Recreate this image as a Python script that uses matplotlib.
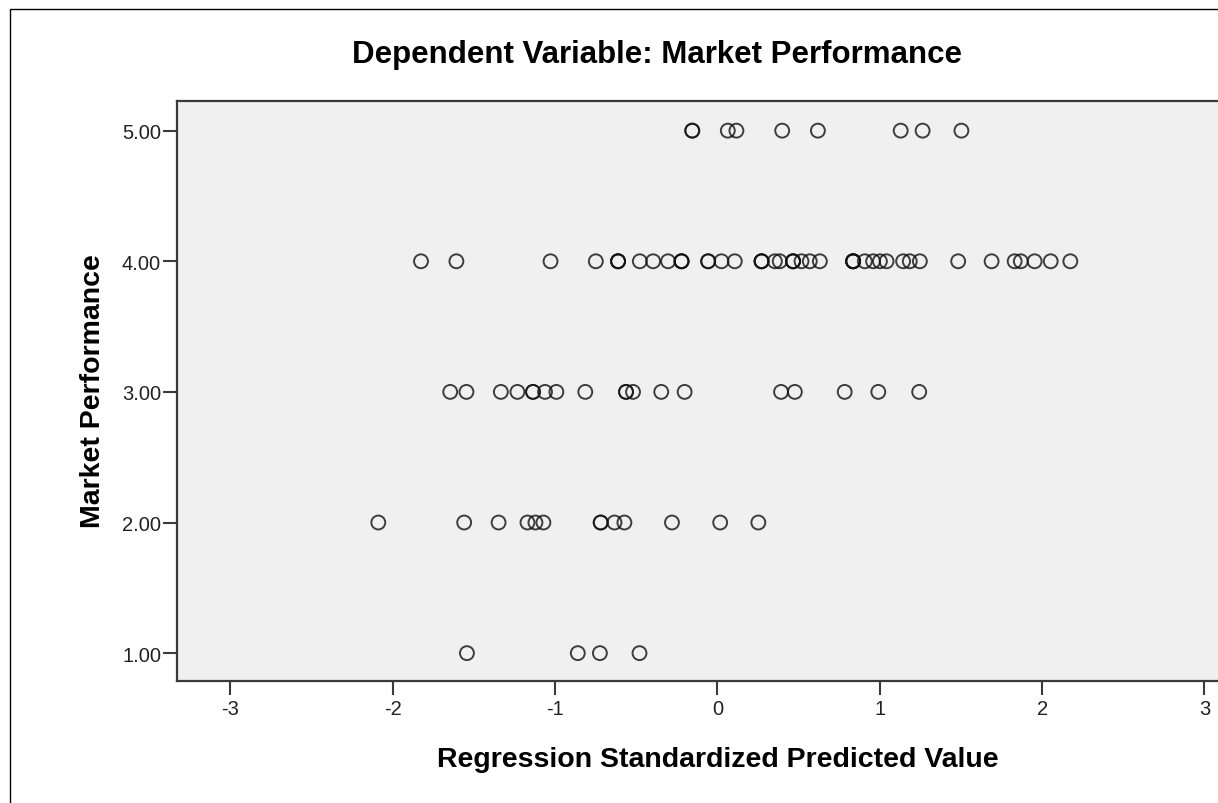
import matplotlib
matplotlib.use("Agg")
import matplotlib.pyplot as plt
from matplotlib.patches import Rectangle

pred_at_5 = [-0.155, -0.155, 0.064, 0.117, 0.399, 0.619, 1.129, 1.264, 1.503]
pred_at_4 = [-1.826, -1.608, -1.028, -0.749, -0.612, -0.612, -0.612, -0.478, -0.396,
             -0.304, -0.221, -0.221, -0.221, -0.057, -0.057, 0.025, 0.107, 0.272,
             0.272, 0.272, 0.354, 0.384, 0.466, 0.466, 0.466, 0.518, 0.569, 0.631,
             0.836, 0.836, 0.836, 0.836, 0.908, 0.959, 1.001, 1.042, 1.144, 1.185,
             1.247, 1.483, 1.689, 1.831, 1.869, 1.954, 2.053, 2.174]
pred_at_3 = [-1.646, -1.546, -1.334, -1.232, -1.136, -1.136, -1.062, -0.992, -0.814,
             -0.563, -0.563, -0.520, -0.346, -0.202, 0.392, 0.477, 0.784, 0.991, 1.243]
pred_at_2 = [-2.089, -1.560, -1.348, -1.170, -1.121, -1.072, -0.719, -0.719, -0.634,
             -0.573, -0.280, 0.017, 0.252]
pred_at_1 = [-1.543, -0.860, -0.724, -0.480]

observed_levels = [5.0, 4.0, 3.0, 2.0, 1.0]
x_ticks = [-3, -2, -1, 0, 1, 2, 3]
y_ticks = [1.0, 2.0, 3.0, 4.0, 5.0]


def main():
    font = "Liberation Sans"
    fig = plt.figure(figsize=(12.18, 8.04), dpi=100)
    fig.patch.set_facecolor("white")

    # outer frame of the chart (only the left and top edges are in view)
    fig.add_artist(Rectangle((10 / 1218, -1.0), 2.0, 1.0 + (804 - 9.5) / 804,
                             transform=fig.transFigure, fill=False,
                             edgecolor="black", linewidth=1.0))

    ax = fig.add_axes([177 / 1218, (804 - 681.7) / 804, 1081 / 1218, 579.7 / 804])
    ax.set_facecolor("#f0f0f0")

    groups = [pred_at_5, pred_at_4, pred_at_3, pred_at_2, pred_at_1]
    for level, xs in zip(observed_levels, groups):
        ax.scatter(xs, [level] * len(xs), s=100, facecolors="none",
                   edgecolors="#111111", linewidths=1.4, alpha=0.8, zorder=3)

    ax.set_xlim(-3.329, 3.33)
    ax.set_ylim(0.789, 5.227)
    ax.set_xticks(x_ticks)
    ax.set_xticklabels([str(t) for t in x_ticks])
    ax.set_yticks(y_ticks)
    ax.set_yticklabels(["%.2f" % t for t in y_ticks])

    for side in ["left", "bottom", "top", "right"]:
        ax.spines[side].set_color("#3a3a3a")
        ax.spines[side].set_linewidth(1.6)

    ax.tick_params(axis="both", direction="out", length=10, width=1.5,
                   color="#3a3a3a", labelcolor="#222222", labelsize=14.5)
    ax.tick_params(axis="y", pad=1.5)
    ax.tick_params(axis="x", pad=3.5)
    for lbl in ax.get_xticklabels() + ax.get_yticklabels():
        lbl.set_fontfamily(font)

    ax.set_xlabel("Regression Standardized Predicted Value", fontsize=20.5,
                  fontweight="bold", fontfamily=font, va="baseline")
    ax.xaxis.set_label_coords(0.5005, (681.7 - 767.3) / 579.7)
    ax.set_ylabel("Market Performance", fontsize=20.5, fontweight="bold",
                  fontfamily=font, va="center")
    ax.yaxis.set_label_coords((93.3 - 177) / 1081, 0.5015)

    fig.text(657 / 1218, (804 - 63) / 804, "Dependent Variable: Market Performance",
             ha="center", va="baseline", fontsize=22.5, fontweight="bold", fontfamily=font)

    plt.savefig("out.png", dpi=100)


main()
